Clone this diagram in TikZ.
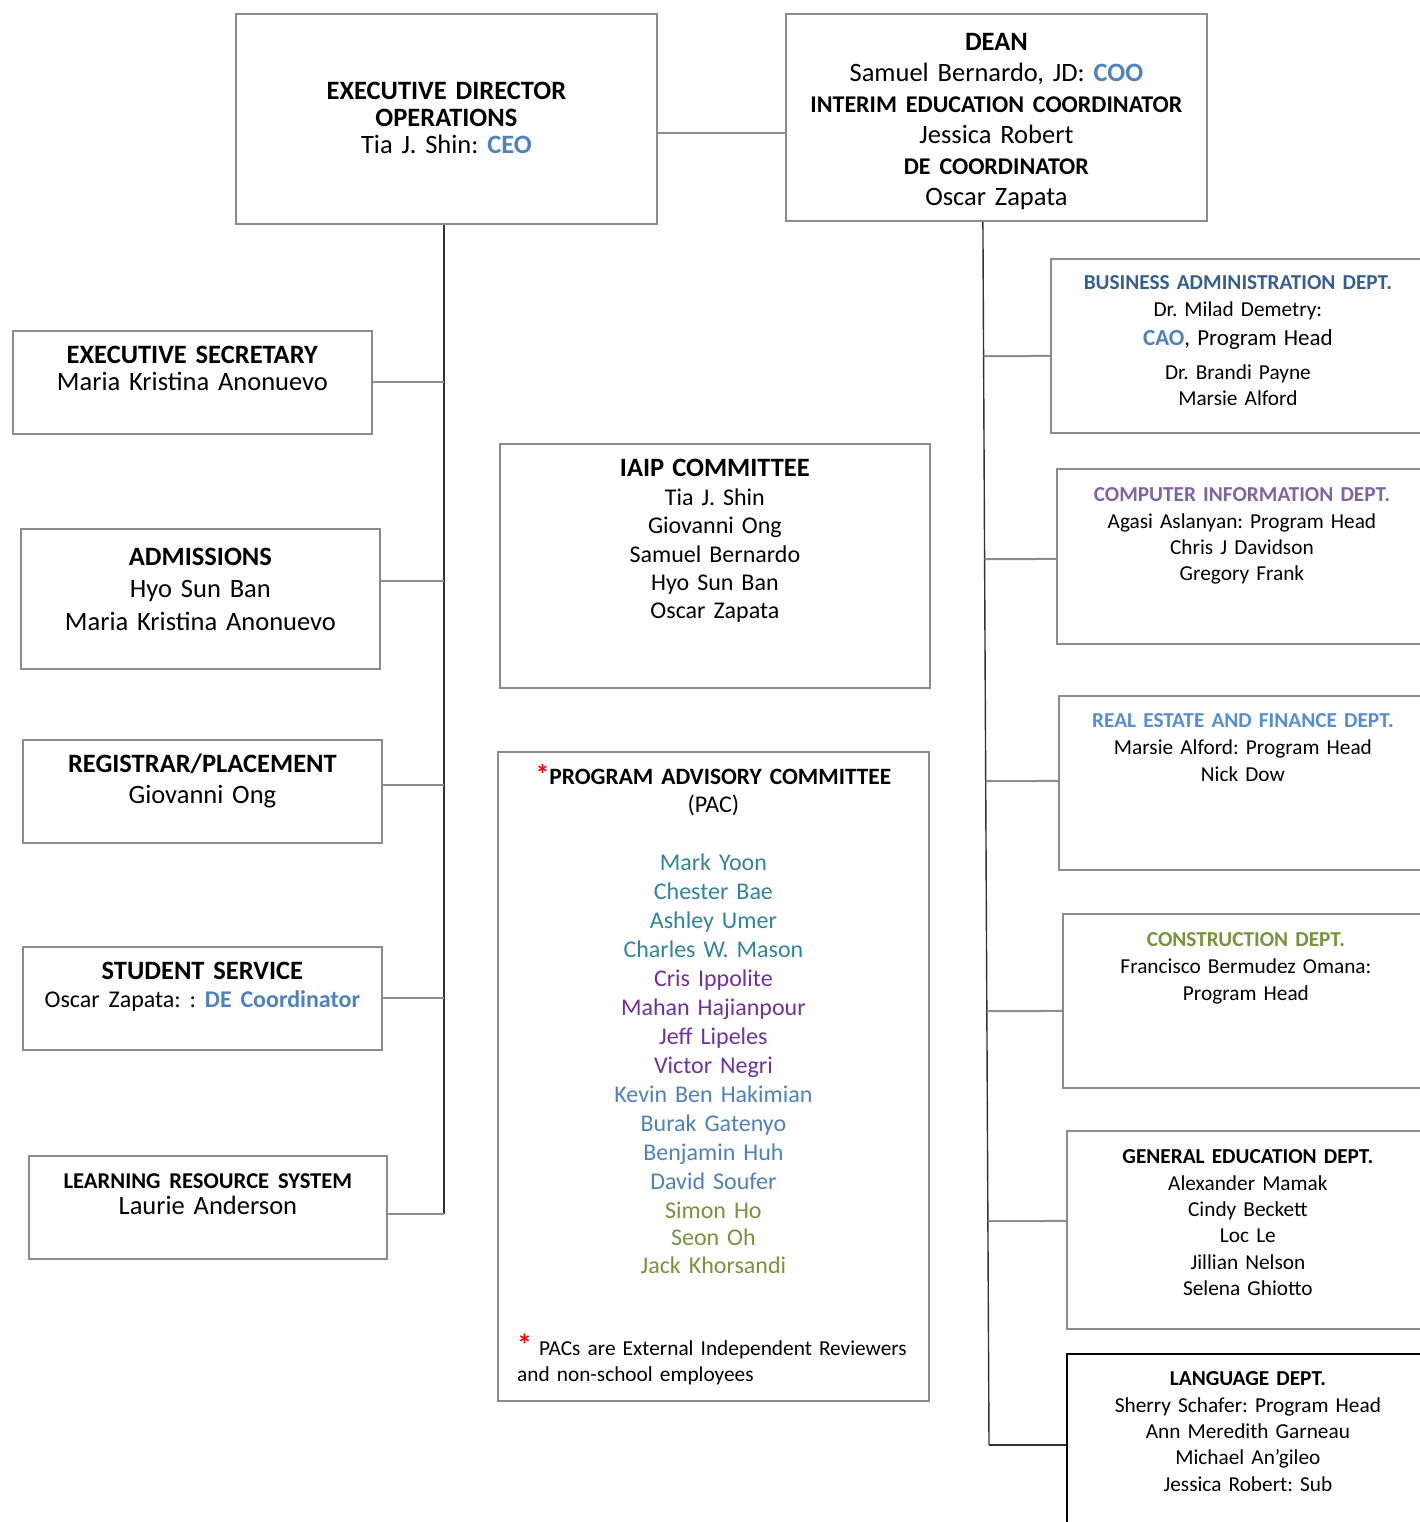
\documentclass[tikz,border=0pt]{standalone}
\usepackage{fontspec}
\setmainfont{Carlito}
\usetikzlibrary{calc}
\frenchspacing
\definecolor{boxgray}{HTML}{8C8C8C}
\definecolor{trunkgray}{HTML}{333333}
\definecolor{cblue}{HTML}{4F81BD}
\definecolor{cbadark}{HTML}{365F91}
\definecolor{cpurple}{HTML}{8064A2}
\definecolor{clblue}{HTML}{558ED5}
\definecolor{cgreen}{HTML}{77933C}
\definecolor{cteal}{HTML}{31849B}
\definecolor{cviolet}{HTML}{7030A0}
\newcommand\fmid{\fontsize{24pt}{29pt}\selectfont}
\begin{document}
\begin{tikzpicture}[x=1pt,y=-1pt,
  box/.style={draw=boxgray,line width=1.8pt,inner sep=0pt,align=center,anchor=north west},
  big/.style={box,font=\fontsize{26.5pt}{#1}\selectfont},
  dept/.style={box,font=\fontsize{21.3pt}{26.3pt}\selectfont},
  link/.style={draw=boxgray,line width=2pt},
  trunk/.style={draw=trunkgray,line width=1.4pt}]
\useasboundingbox (0,0) rectangle (1420,1522);

% top row
\node[big=27pt,text width=421pt,text height=85.5pt,text depth=124.5pt] (ed) at (235,13)
  {\textbf{EXECUTIVE DIRECTOR}\\\textbf{OPERATIONS}\\Tia J. Shin: \textbf{\textcolor{cblue}{CEO}}};
\node[big=31pt,text width=421pt,text height=36.5pt,text depth=170.5pt] (dean) at (785,13)
  {\textbf{DEAN}\\Samuel Bernardo, JD: \textbf{\textcolor{cblue}{COO}}\\
   {\fontsize{24pt}{31pt}\selectfont\bfseries INTERIM EDUCATION COORDINATOR}\\Jessica Robert\\
   {\fontsize{24pt}{31pt}\selectfont\bfseries DE COORDINATOR}\\Oscar Zapata};

% left column
\node[big=27pt,text width=359pt,text height=32.5pt,text depth=70.5pt] (es) at (12,330)
  {\textbf{EXECUTIVE SECRETARY}\\Maria Kristina Anonuevo};
\node[big=32.5pt,text width=359pt,text height=36.5pt,text depth=103.5pt] (ad) at (20,528)
  {\textbf{ADMISSIONS}\\Hyo Sun Ban\\Maria Kristina Anonuevo};
\node[big=31pt,text width=359pt,text height=32.5pt,text depth=70.5pt] (rg) at (22,739)
  {\textbf{REGISTRAR/PLACEMENT}\\Giovanni Ong};
\node[big=28pt,text width=359pt,text height=32.5pt,text depth=70.5pt] (ss) at (22,946)
  {\textbf{STUDENT SERVICE}\\{\fontsize{24pt}{28pt}\selectfont Oscar Zapata: : \textbf{\textcolor{cblue}{DE Coordinator}}}};
\node[big=26pt,text width=358pt,text height=32.3pt,text depth=70.7pt] (lr) at (28,1155)
  {{\fontsize{22.6pt}{26pt}\selectfont\bfseries LEARNING RESOURCE SYSTEM}\\Laurie Anderson};

% committees
\node[box,font=\fontsize{24pt}{28.3pt}\selectfont,text width=430pt,text height=32.5pt,text depth=211.5pt] (iaip) at (499,443)
  {{\fontsize{26.5pt}{28.3pt}\selectfont\bfseries IAIP COMMITTEE}\\[0.7pt]Tia J. Shin\\Giovanni Ong\\Samuel Bernardo\\Hyo Sun Ban\\Oscar Zapata};
\node[box,font=\fmid,text width=431pt,text height=32.5pt,text depth=616.5pt] (pac) at (497,751)
  {{\fontsize{23.4pt}{29pt}\selectfont\bfseries{\fontsize{28pt}{29pt}\selectfont\textcolor{red}{*}}PROGRAM ADVISORY COMMITTEE}\\[-1pt](PAC)\\[29pt]
   \textcolor{cteal}{Mark Yoon}\\\textcolor{cteal}{Chester Bae}\\\textcolor{cteal}{Ashley Umer}\\\textcolor{cteal}{Charles W. Mason}\\
   \textcolor{cviolet}{Cris Ippolite}\\\textcolor{cviolet}{Mahan Hajianpour}\\\textcolor{cviolet}{Jeff Lipeles}\\\textcolor{cviolet}{Victor Negri}\\
   \textcolor{cblue}{Kevin Ben Hakimian}\\\textcolor{cblue}{Burak Gatenyo}\\\textcolor{cblue}{Benjamin Huh}\\\textcolor{cblue}{David Soufer}\\
   \textcolor{cgreen}{Simon Ho}\\[-1.5pt]\textcolor{cgreen}{Seon Oh}\\[-1.5pt]\textcolor{cgreen}{Jack Khorsandi}};
\node[inner sep=0pt,text width=400pt,align=left,anchor=base west,font=\fontsize{21.3pt}{26pt}\selectfont] (pacnote)
  at ([xshift=20pt,yshift=46pt]pac.south west)
  {{\fontsize{30pt}{26pt}\selectfont\bfseries\textcolor{red}{*}} PACs are External Independent Reviewers\\and non-school employees};

% departments
\node[dept,text width=374pt,text height=31pt,text depth=143pt] (ba) at (1050,258)
  {\textbf{\textcolor{cbadark}{BUSINESS ADMINISTRATION DEPT.}}\\Dr. Milad Demetry:\\[2.7pt]
   {\fontsize{23pt}{26.3pt}\selectfont\textbf{\textcolor{cblue}{CAO}}, Program Head}\\[7.7pt]Dr. Brandi Payne\\Marsie Alford};
\node[dept,text width=370pt,text height=33pt,text depth=142pt] (ci) at (1056,468)
  {\textbf{\textcolor{cpurple}{COMPUTER INFORMATION DEPT.}}\\Agasi Aslanyan: Program Head\\Chris J Davidson\\Gregory Frank};
\node[dept,text width=368pt,text height=32pt,text depth=142pt] (re) at (1058,695)
  {\textbf{\textcolor{clblue}{REAL ESTATE AND FINANCE DEPT.}}\\[0.7pt]Marsie Alford: Program Head\\Nick Dow};
\node[dept,text width=366pt,text height=33pt,text depth=141pt] (co) at (1062,913)
  {\textbf{\textcolor{cgreen}{CONSTRUCTION DEPT.}}\\Francisco Bermudez Omana:\\[0.7pt]Program Head};
\node[dept,text width=362pt,text height=33pt,text depth=165pt] (ge) at (1066,1130)
  {\textbf{GENERAL EDUCATION DEPT.}\\Alexander Mamak\\Cindy Beckett\\Loc Le\\Jillian Nelson\\Selena Ghiotto};
\node[dept,draw=black,text width=362pt,text height=32pt,text depth=150pt] (la) at (1066,1353)
  {\textbf{LANGUAGE DEPT.}\\Sherry Schafer: Program Head\\Ann Meredith Garneau\\Michael An'gileo\\Jessica Robert: Sub};

% joints
\coordinate (edj) at ([yshift=-14pt]ed.east);
\coordinate (ltop) at ([xshift=-2.5pt]ed.south);
\coordinate (adj) at ([yshift=18pt]ad.east);
\coordinate (rgj) at ([yshift=6.5pt]rg.east);
\coordinate (lrj) at ([yshift=-6.5pt]lr.east);
\coordinate (rtop) at ([xshift=-13.5pt]dean.south);
\coordinate (rbot) at ([xshift=-77pt]la.west);
\coordinate (baj) at ([yshift=-10pt]ba.west);
\coordinate (cij) at ([yshift=-2.5pt]ci.west);
\coordinate (rej) at ([yshift=2pt]re.west);
\coordinate (coj) at ([yshift=-10pt]co.west);
\coordinate (gej) at ([yshift=9pt]ge.west);

% connectors
\draw[link] (edj) -- (edj -| dean.west);
\draw[trunk] (ltop) -- (lrj -| ltop);
\draw[link] (es.east) -- (es.east -| ltop);
\draw[link] (adj) -- (adj -| ltop);
\draw[link] (rgj) -- (rgj -| ltop);
\draw[link] (ss.east) -- (ss.east -| ltop);
\draw[link] (lrj) -- (lrj -| ltop);
\draw[trunk] (rtop) -- (rbot);
\draw[link] (baj) -- ($(rtop)!(baj)!(rbot)$);
\draw[link] (cij) -- ($(rtop)!(cij)!(rbot)$);
\draw[link] (rej) -- ($(rtop)!(rej)!(rbot)$);
\draw[link] (coj) -- ($(rtop)!(coj)!(rbot)$);
\draw[link] (gej) -- ($(rtop)!(gej)!(rbot)$);
\draw[trunk] (la.west) -- (rbot);
\end{tikzpicture}
\end{document}
